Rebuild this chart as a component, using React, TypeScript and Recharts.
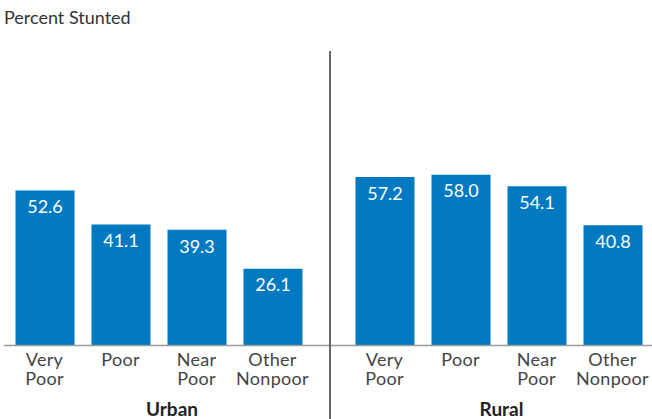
import { BarChart, Bar, XAxis, YAxis, LabelList } from "recharts";

const categories = ["Very Poor", "Poor", "Near Poor", "Other Nonpoor"];
const urbanValues = [52.6, 41.1, 39.3, 26.1];
const ruralValues = [57.2, 58.0, 54.1, 40.8];
const groupNames = ["Urban", "Rural"];
const yTitle = "Percent Stunted";

const BLUE = "#0079c1";
const FONT = "Lato, 'Noto Sans', sans-serif";

function rows(values: number[]) {
  return categories.map((c, i) => ({ category: c, value: values[i] }));
}

function CategoryTick(props: any) {
  const { x, y, payload } = props;
  const words = String(payload.value).split(" ");
  return (
    <g>
      {words.map((w, i) => (
        <text
          key={i}
          x={x}
          y={y + 20.5 + i * 18.5}
          textAnchor="middle"
          fill="#444"
          fontSize={18}
          letterSpacing={0.3}
          fontFamily={FONT}
        >
          {w}
        </text>
      ))}
    </g>
  );
}

interface PanelProps {
  values: number[];
  name: string;
  left: number;
  width: number;
  marginLeft: number;
  padding: { left: number; right: number };
  labelDx: number;
}

function Panel({ values, name, left, width, marginLeft, padding, labelDx }: PanelProps) {
  return (
    <div style={{ position: "absolute", left, top: 0 }}>
      <BarChart
        width={width}
        height={419}
        data={rows(values)}
        margin={{ top: 51, right: 0, bottom: 0, left: marginLeft }}
      >
        <YAxis hide domain={[0, 100]} />
        <XAxis
          dataKey="category"
          height={73.5}
          padding={padding}
          axisLine={{ stroke: "#9a9a9a", strokeWidth: 1.5 }}
          tickLine={false}
          tickSize={0}
          tickMargin={0}
          interval={0}
          tick={<CategoryTick />}
          label={{
            value: name,
            position: "insideBottom",
            offset: 3,
            dx: labelDx,
            fill: "#222",
            fontSize: 19,
            fontWeight: 700,
            fontFamily: FONT,
          }}
        />
        <Bar dataKey="value" fill={BLUE} barSize={59} isAnimationActive={false}>
          <LabelList
            dataKey="value"
            position="insideTop"
            offset={10}
            fill="#fff"
            fontSize={18}
            fontFamily={FONT}
            formatter={(v: any) => Number(v).toFixed(1)}
          />
        </Bar>
      </BarChart>
    </div>
  );
}

export default function App() {
  return (
    <div style={{ position: "relative", width: 652, height: 419, background: "#fff", overflow: "hidden" }}>
      <style>{"body{margin:0}"}</style>
      <svg width={200} height={40} style={{ position: "absolute", left: 0, top: 0 }}>
        <text x={4} y={24} fill="#333" fontSize={18} fontFamily={FONT}>
          {yTitle}
        </text>
      </svg>
      <Panel
        values={urbanValues}
        name={groupNames[0]}
        left={0}
        width={330}
        marginLeft={4}
        padding={{ left: 2.5, right: 19.5 }}
        labelDx={5}
      />
      <Panel
        values={ruralValues}
        name={groupNames[1]}
        left={330}
        width={322}
        marginLeft={0}
        padding={{ left: 16.5, right: 1.5 }}
        labelDx={10.5}
      />
      <div
        style={{ position: "absolute", left: 328.5, top: 51, width: 2, height: 368, background: "#666" }}
      />
    </div>
  );
}
